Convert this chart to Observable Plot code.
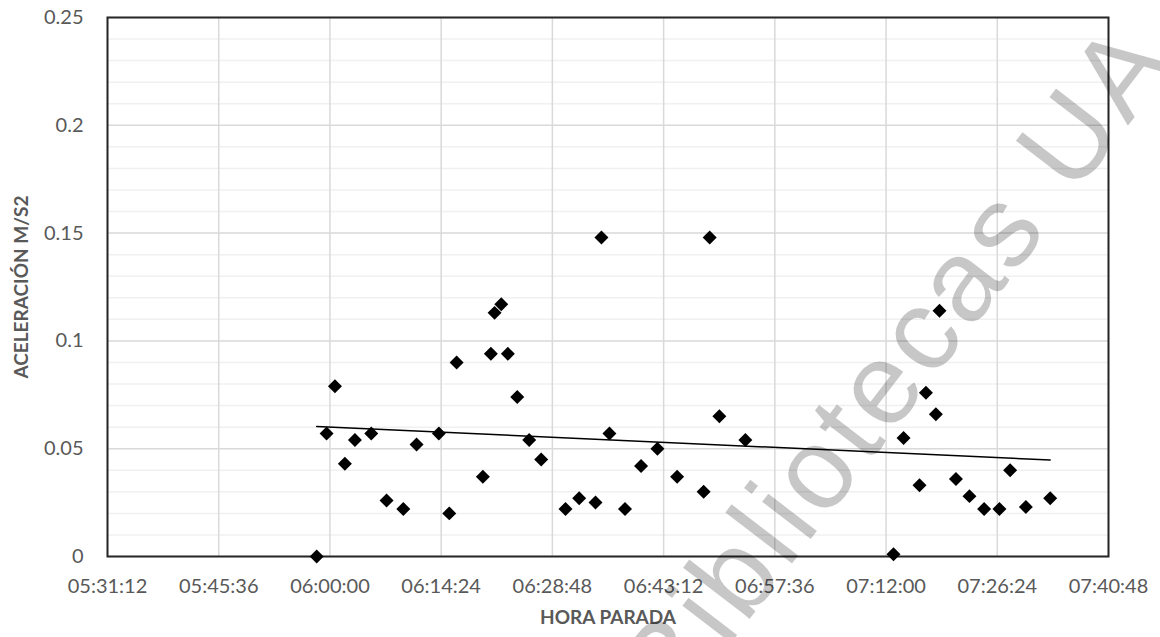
<!DOCTYPE html>
<html><head><meta charset="utf-8">
<script src="https://cdn.jsdelivr.net/npm/d3@7"></script>
<script src="https://cdn.jsdelivr.net/npm/@observablehq/plot@0.6"></script>
<style>
html,body{margin:0;padding:0;background:#fff;}
#chart svg{display:block;}
</style></head><body><div id="chart"></div>
<script>
const horaParada = ["05:58:17","05:59:34","06:00:39","06:01:56","06:03:14","06:05:21","06:07:20","06:09:30","06:11:13","06:14:06",
  "06:15:27","06:16:24","06:19:48","06:20:50","06:21:19","06:22:11","06:23:02","06:24:15","06:25:48","06:27:21",
  "06:30:30","06:32:16","06:34:23","06:35:09","06:36:11","06:38:12","06:40:17","06:42:24","06:44:57","06:48:23",
  "06:49:10","06:50:25","06:53:47","07:12:58","07:14:16","07:16:20","07:17:10","07:18:27","07:18:55","07:21:03",
  "07:22:48","07:24:42","07:26:41","07:28:04","07:30:06","07:33:15"];
const aceleracion = [0.000,0.057,0.079,0.043,0.054,0.057,0.026,0.022,0.052,0.057,
  0.020,0.090,0.037,0.094,0.113,0.117,0.094,0.074,0.054,0.045,
  0.022,0.027,0.025,0.148,0.057,0.022,0.042,0.050,0.037,0.030,
  0.148,0.065,0.054,0.001,0.055,0.033,0.076,0.066,0.114,0.036,
  0.028,0.022,0.022,0.040,0.023,0.027];
const xTickLabels = ["05:31:12","05:45:36","06:00:00","06:14:24","06:28:48","06:43:12","06:57:36","07:12:00","07:26:24","07:40:48"];
const yTickValues = [0,0.05,0.1,0.15,0.2,0.25];
const yMinorValues = [0.01,0.02,0.03,0.04,0.06,0.07,0.08,0.09,0.11,0.12,0.13,0.14,0.16,0.17,0.18,0.19,0.21,0.22,0.23,0.24];
const xTitle = "HORA PARADA";
const yTitle = "ACELERACIÓN M/S2";
const watermark = "Bibliotecas UA";

const toSec = s => { const [h,m,x] = s.split(":").map(Number); return h*3600+m*60+x; };
const pad = n => String(n).padStart(2,"0");
const fmtTime = sec => pad(Math.floor(sec/3600)) + ":" + pad(Math.floor(sec%3600/60)) + ":" + pad(Math.round(sec%60));
const xTicks = xTickLabels.map(toSec);
const data = horaParada.map((t,i) => ({x: toSec(t), y: aceleracion[i]}));

const chart = Plot.plot({
  width: 1160, height: 637,
  marginLeft: 107, marginRight: 52, marginTop: 17, marginBottom: 81,
  style: {fontFamily: "Lato, sans-serif", background: "#fff"},
  x: {type: "linear", domain: [xTicks[0], xTicks[xTicks.length-1]]},
  y: {domain: [0, 0.25]},
  marks: [
    Plot.ruleY(yMinorValues, {stroke: "#f0f0f0", strokeWidth: 1.5}),
    Plot.ruleY(yTickValues, {stroke: "#d9d9d9", strokeWidth: 1.5}),
    Plot.ruleX(xTicks, {stroke: "#d9d9d9", strokeWidth: 1.5}),
    Plot.frame({stroke: "#262626", strokeWidth: 2}),
    Plot.axisX({ticks: xTicks, tickFormat: fmtTime, tickSize: 0, tickPadding: 22, fontSize: 20, color: "#595959", label: null}),
    Plot.axisY({ticks: yTickValues, tickFormat: d => String(+d.toFixed(2)), tickSize: 0, tickPadding: 24, fontSize: 20, color: "#595959", label: null}),
    Plot.linearRegressionY(data, {x: "x", y: "y", stroke: "#000", strokeWidth: 1.5, ci: 0}),
    Plot.dot(data, {x: "x", y: "y", symbol: "diamond2", r: 6.3, fill: "#000", stroke: "none"}),
    Plot.text([xTitle], {text: d => d, frameAnchor: "bottom", dy: 67, fontSize: 19, fontWeight: "bold", fill: "#595959"}),
    Plot.text([yTitle], {text: d => d, frameAnchor: "left", textAnchor: "middle", dx: -86, rotate: -90, fontSize: 19, fontWeight: "bold", fill: "#595959"})
  ]
});

d3.select(chart).append("text")
  .attr("transform", "translate(904,370) rotate(-52.5)")
  .attr("text-anchor", "middle")
  .attr("dy", "0.25em")
  .attr("font-family", "Liberation Sans, Arial, sans-serif")
  .attr("font-size", 116)
  .attr("letter-spacing", 5)
  .attr("fill", "#000")
  .attr("fill-opacity", 0.22)
  .text(watermark);

document.getElementById("chart").appendChild(chart);
</script></body></html>
